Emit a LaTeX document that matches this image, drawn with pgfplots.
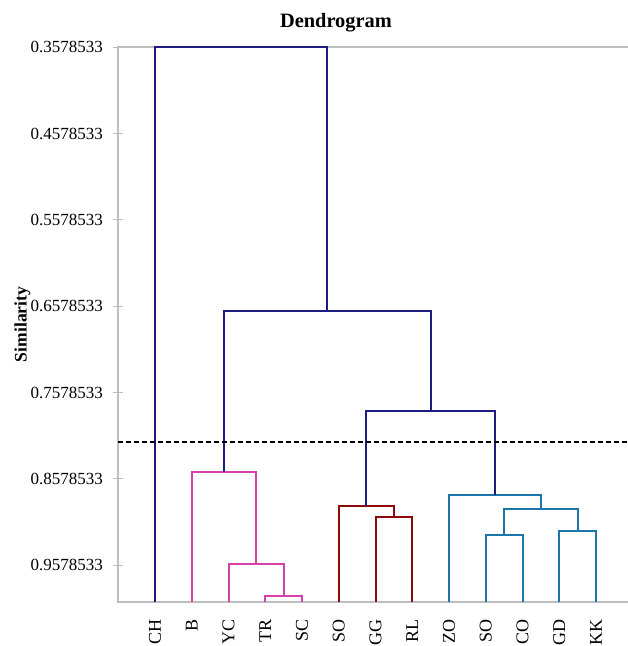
\documentclass[border=0pt]{standalone}
\usepackage{fontspec}
\setmainfont{Liberation Serif}
\usepackage{pgfplots}
\pgfplotsset{compat=1.18}
\definecolor{navyc}{RGB}{28,28,130}
\definecolor{pinkc}{RGB}{214,64,170}
\definecolor{redc}{RGB}{139,10,10}
\definecolor{bluec}{RGB}{27,117,168}
\definecolor{axgray}{RGB}{190,190,190}
\begin{document}
\begin{tikzpicture}
\begin{axis}[
  name=ax,
  at={(0,0)}, anchor=south west,
  scale only axis,
  width=254.9pt, height=277.3pt,
  xmin=-1, xmax=12.87,
  ymin=0.3578533, ymax=1.0,
  y dir=reverse,
  clip=false,
  axis line style={draw=none},
  xtick={0,1,2,3,4,5,6,7,8,9,10,11,12},
  xticklabels={CH,B,YC,TR,SC,SO,GG,RL,ZO,SO,CO,GD,KK},
  x tick style={draw=none},
  xticklabel style={rotate=90, anchor=east, inner sep=0pt, font=\fontsize{9}{10}\selectfont},
  xticklabel shift=6pt,
  ytick pos=left,
  ytick={0.3578533,0.4578533,0.5578533,0.6578533,0.7578533,0.8578533,0.9578533},
  yticklabels={0.3578533,0.4578533,0.5578533,0.6578533,0.7578533,0.8578533,0.9578533},
  yticklabel style={anchor=east, inner sep=0pt, font=\fontsize{8.5}{10}\selectfont},
  yticklabel shift=5pt,
  tick align=center,
  major tick length=5pt,
  y tick style={axgray, line width=0.6pt},
  /pgf/number format/assume math mode=true,
  every axis plot/.append style={line width=1pt, mark=none},
]
\draw[axgray, line width=0.9pt] (rel axis cs:1,1) -- (rel axis cs:0,1) -- (rel axis cs:0,0) -- (rel axis cs:1,0);
% pink cluster
\addplot[pinkc] coordinates {(3,1) (3,0.9930) (4,0.9930) (4,1)};
\addplot[pinkc] coordinates {(2,1) (2,0.956) (3.5,0.956) (3.5,0.9930)};
\addplot[pinkc] coordinates {(1,1) (1,0.8504) (2.75,0.8504) (2.75,0.956)};
% red cluster
\addplot[redc] coordinates {(6,1) (6,0.9022) (7,0.9022) (7,1)};
\addplot[redc] coordinates {(5,1) (5,0.8891) (6.5,0.8891) (6.5,0.9022)};
% blue cluster
\addplot[bluec] coordinates {(9,1) (9,0.9229) (10,0.9229) (10,1)};
\addplot[bluec] coordinates {(11,1) (11,0.9183) (12,0.9183) (12,1)};
\addplot[bluec] coordinates {(9.5,0.9229) (9.5,0.8926) (11.5,0.8926) (11.5,0.9183)};
\addplot[bluec] coordinates {(8,1) (8,0.8767) (10.5,0.8767) (10.5,0.8926)};
% navy upper links
\addplot[navyc] coordinates {(5.75,0.8891) (5.75,0.7794) (9.25,0.7794) (9.25,0.8767)};
\addplot[navyc] coordinates {(1.875,0.8504) (1.875,0.6635) (7.5,0.6635) (7.5,0.7794)};
\addplot[navyc] coordinates {(0,1) (0,0.3578533) (4.6875,0.3578533) (4.6875,0.6635)};
% cut line
\addplot[black, line width=1pt, dash pattern=on 2.5pt off 1.5pt] coordinates {(-1,0.8147) (12.87,0.8147)};
\node[anchor=base, font=\bfseries\fontsize{10.2}{12}\selectfont] at (rel axis cs:0.427,1.0348) {Dendrogram};
\node[rotate=90, anchor=center, font=\bfseries\fontsize{8.8}{10}\selectfont] at (rel axis cs:-0.1883,0.5) {Similarity};
\end{axis}
\pgfresetboundingbox
\path[use as bounding box] ([xshift=-59.2pt,yshift=-22.2pt]ax.south west) rectangle ([yshift=23.6pt]ax.north east);
\end{tikzpicture}
\end{document}
